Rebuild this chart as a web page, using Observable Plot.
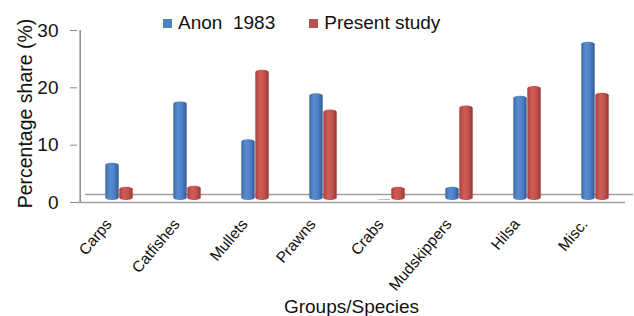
<!DOCTYPE html>
<html>
<head>
<meta charset="utf-8">
<script src="https://cdn.jsdelivr.net/npm/d3@7"></script>
<script src="https://cdn.jsdelivr.net/npm/@observablehq/plot@0.6"></script>
<style>
  html, body { margin: 0; padding: 0; background: #fff; }
  #wrap { position: relative; width: 634px; height: 316px; overflow: hidden; font-family: "Liberation Sans", Arial, sans-serif; }
  #legend { position: absolute; top: 12px; left: 163px; font-size: 19px; color: #111; white-space: pre; display: flex; align-items: center; }
  .sw { display: inline-block; width: 9px; height: 9px; margin-right: 6px; }
  .item { display: inline-flex; align-items: center; }
</style>
</head>
<body>
<div id="wrap"></div>
<script>
const categories = ["Carps", "Catfishes", "Mullets", "Prawns", "Crabs", "Mudskippers", "Hilsa", "Misc."];
const anon1983 = [6.5, 17.2, 10.6, 18.6, 0.1, 2.3, 18.2, 27.6];
const presentStudy = [2.3, 2.5, 22.7, 15.8, 2.3, 16.5, 19.9, 18.7];
const seriesNames = ["Anon  1983", "Present study"];
const yTicks = [0, 10, 20, 30];

const blueData = categories.map((c, i) => ({category: c, value: anon1983[i]}));
const redData = categories.map((c, i) => ({category: c, value: presentStudy[i]}));

const W = 634, H = 316, mL = 77, mR = 1, mT = 30, mB = 114, insL = 5, insR = 2;
const bw = (W - mL - mR - insL - insR) / categories.length;
const barW = 14;

const chart = Plot.plot({
  width: W, height: H,
  marginLeft: mL, marginRight: mR, marginTop: mT, marginBottom: mB,
  style: {fontFamily: "Liberation Sans, Arial, sans-serif", background: "transparent", color: "#111"},
  x: {domain: categories, padding: 0, insetLeft: insL, insetRight: insR, axis: null},
  y: {domain: [0, 30], axis: null},
  marks: [
    Plot.ruleY([0], {dx: 8, dy: -8, insetRight: 8, stroke: "#a0a0a0", strokeWidth: 1.5}),
    Plot.rectY(blueData, {x: "category", y: "value", fill: "url(#gBlue)", insetLeft: bw / 2 - barW, insetRight: bw / 2, rx: 6, ry: 2.5, dy: -2}),
    Plot.rectY(redData, {x: "category", y: "value", fill: "url(#gRed)", insetLeft: bw / 2, insetRight: bw / 2 - barW, rx: 6, ry: 2.5, dy: -2}),
    Plot.ruleY([0], {insetRight: 8, stroke: "#a0a0a0", strokeWidth: 1.5}),
    Plot.ruleX([categories[0]], {y1: 0, y2: 30, dx: -(bw / 2 + insL), stroke: "#8a8a8a", strokeWidth: 1.5}),
    Plot.axisY({ticks: yTicks, tickSize: 7, tickPadding: 12, fontSize: 19, stroke: "#8a8a8a", label: null, tickFormat: d3.format("d")}),
    Plot.text(categories, {x: d => d, frameAnchor: "bottom", dx: -7, dy: 22, rotate: -50, textAnchor: "end", fontSize: 15.5, fill: "#111"}),
    Plot.text(["Percentage share (%)"], {frameAnchor: "left", rotate: -90, textAnchor: "middle", dx: -52, dy: -3, fontSize: 19.5, fill: "#111"}),
    Plot.text(["Groups/Species"], {frameAnchor: "bottom", dx: -4, dy: 110, lineAnchor: "bottom", fontSize: 19, fill: "#111"})
  ]
});

chart.insertAdjacentHTML("afterbegin", `
<defs>
  <linearGradient id="gBlue" x1="0" x2="1" y1="0" y2="0">
    <stop offset="0" stop-color="#3d6aa6"/>
    <stop offset="0.35" stop-color="#5a8ed4"/>
    <stop offset="0.7" stop-color="#4a7dc0"/>
    <stop offset="1" stop-color="#34598e"/>
  </linearGradient>
  <linearGradient id="gRed" x1="0" x2="1" y1="0" y2="0">
    <stop offset="0" stop-color="#a9403d"/>
    <stop offset="0.35" stop-color="#d25d59"/>
    <stop offset="0.7" stop-color="#c14f4b"/>
    <stop offset="1" stop-color="#953634"/>
  </linearGradient>
</defs>`);

const wrap = document.getElementById("wrap");
wrap.appendChild(chart);

const legend = document.createElement("div");
legend.id = "legend";
const colors = ["#4f81c7", "#c0504d"];
seriesNames.forEach((name, i) => {
  const item = document.createElement("span");
  item.className = "item";
  item.style.marginRight = i === 0 ? "34px" : "0";
  const sw = document.createElement("span");
  sw.className = "sw";
  sw.style.background = colors[i];
  item.appendChild(sw);
  item.appendChild(document.createTextNode(name));
  legend.appendChild(item);
});
wrap.appendChild(legend);
</script>
</body>
</html>
